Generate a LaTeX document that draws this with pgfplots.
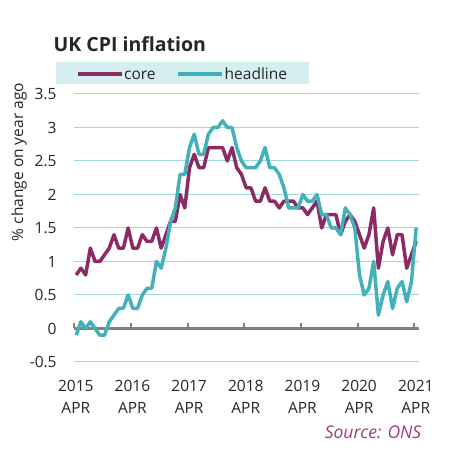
\documentclass[border=0pt]{standalone}
\usepackage{fontspec}
\setmainfont{Open Sans}
\usepackage{pgfplots}
\pgfplotsset{compat=1.18}
\usepackage{pgfplotstable}
\definecolor{corec}{HTML}{8B2B63}
\definecolor{headc}{HTML}{42B1BA}
\definecolor{gridc}{HTML}{9ED8DB}
\definecolor{legbg}{HTML}{D5EFF1}
\definecolor{srcc}{HTML}{9E3C7D}
\definecolor{txtc}{HTML}{262626}
\definecolor{axc}{HTML}{808080}

\pgfplotstableread{
m core headline
0 0.8 -0.1
1 0.9 0.1
2 0.8 0.0
3 1.2 0.1
4 1.0 0.0
5 1.0 -0.1
6 1.1 -0.1
7 1.2 0.1
8 1.4 0.2
9 1.2 0.3
10 1.2 0.3
11 1.5 0.5
12 1.2 0.3
13 1.2 0.3
14 1.4 0.5
15 1.3 0.6
16 1.3 0.6
17 1.5 1.0
18 1.2 0.9
19 1.4 1.2
20 1.6 1.6
21 1.6 1.8
22 2.0 2.3
23 1.8 2.3
24 2.4 2.7
25 2.6 2.9
26 2.4 2.6
27 2.4 2.6
28 2.7 2.9
29 2.7 3.0
30 2.7 3.0
31 2.7 3.1
32 2.5 3.0
33 2.7 3.0
34 2.4 2.7
35 2.3 2.5
36 2.1 2.4
37 2.1 2.4
38 1.9 2.4
39 1.9 2.5
40 2.1 2.7
41 1.9 2.4
42 1.9 2.4
43 1.8 2.3
44 1.9 2.1
45 1.9 1.8
46 1.9 1.8
47 1.8 1.8
48 1.8 2.0
49 1.7 1.9
50 1.8 1.9
51 1.9 2.0
52 1.5 1.7
53 1.7 1.7
54 1.7 1.5
55 1.7 1.5
56 1.4 1.4
57 1.6 1.8
58 1.7 1.7
59 1.6 1.5
60 1.4 0.8
61 1.2 0.5
62 1.4 0.6
63 1.8 1.0
64 0.9 0.2
65 1.3 0.5
66 1.5 0.7
67 1.1 0.3
68 1.4 0.6
69 1.4 0.7
70 0.9 0.4
71 1.1 0.7
72 1.3 1.5
}\cpi

\begin{document}
\begin{tikzpicture}
\useasboundingbox (0pt,0pt) rectangle (452pt,454pt);
% title
\node[anchor=base west, inner sep=0pt, text=txtc,
      font=\fontsize{19.5}{23}\selectfont\bfseries] at (53.5pt,402.5pt) {UK CPI inflation};
% legend
\fill[legbg] (56pt,369.7pt) rectangle (309pt,392.3pt);
\draw[corec, line width=3.5pt] (78pt,380.2pt) -- (122pt,380.2pt);
\node[anchor=base west, inner sep=0pt, text=txtc, font=\fontsize{15.5}{18}\selectfont] at (124pt,374.2pt) {core};
\draw[headc, line width=3.5pt] (178pt,380.2pt) -- (222pt,380.2pt);
\node[anchor=base west, inner sep=0pt, text=txtc, font=\fontsize{15.5}{18}\selectfont] at (224.5pt,374.2pt) {headline};
% source
\node[anchor=base east, inner sep=0pt, text=srcc,
      font=\fontsize{17.5}{20}\selectfont\itshape] at (421.5pt,16pt) {Source: ONS};
\begin{axis}[
  at={(74.3pt,92pt)}, anchor=south west,
  scale only axis, width=344.7pt, height=268pt,
  xmin=-0.4, xmax=72.6, ymin=-0.5, ymax=3.5,
  axis line style={draw=none},
  tick style={draw=none},
  ytick={-0.5,0.5,1,1.5,2,2.5,3,3.5},
  yticklabels={-0.5,0.5,1,1.5,2,2.5,3,3.5},
  extra y ticks={0}, extra y tick labels={0},
  extra y tick style={ymajorgrids=true, major grid style={draw=axc, line width=3pt}},
  ymajorgrids, major grid style={draw=gridc, line width=1pt},
  xtick={-0.4,11.6,23.6,35.6,47.6,59.6,71.6},
  xticklabels={{2015\\APR},{2016\\APR},{2017\\APR},{2018\\APR},{2019\\APR},{2020\\APR},{2021\\APR}},
  every tick label/.append style={font=\fontsize{15.5}{22}\selectfont, text=txtc},
  xticklabel style={align=center, anchor=north, inner sep=0pt, yshift=-18pt, xshift=1.5pt},
  yticklabel style={anchor=east, inner sep=0pt, xshift=-17.5pt},
  ylabel={\% change on year ago},
  ylabel style={at={(axis description cs:-0.1604,0.746)}, anchor=center, inner sep=0pt,
                font=\fontsize{15.5}{18}\selectfont, text=txtc},
  clip=false,
]
\pgfplotsinvokeforeach{-0.4,11.6,23.6,35.6,47.6,59.6,71.6}{
  \draw[axc, line width=2pt] (axis cs:#1,0) -- ([yshift=5pt]axis cs:#1,0);
}
\addplot[corec, line width=3.5pt, line join=round, no markers] table[x=m, y=core] {\cpi};
\addplot[headc, line width=3.5pt, line join=round, no markers] table[x=m, y=headline] {\cpi};
\end{axis}
\end{tikzpicture}
\end{document}
